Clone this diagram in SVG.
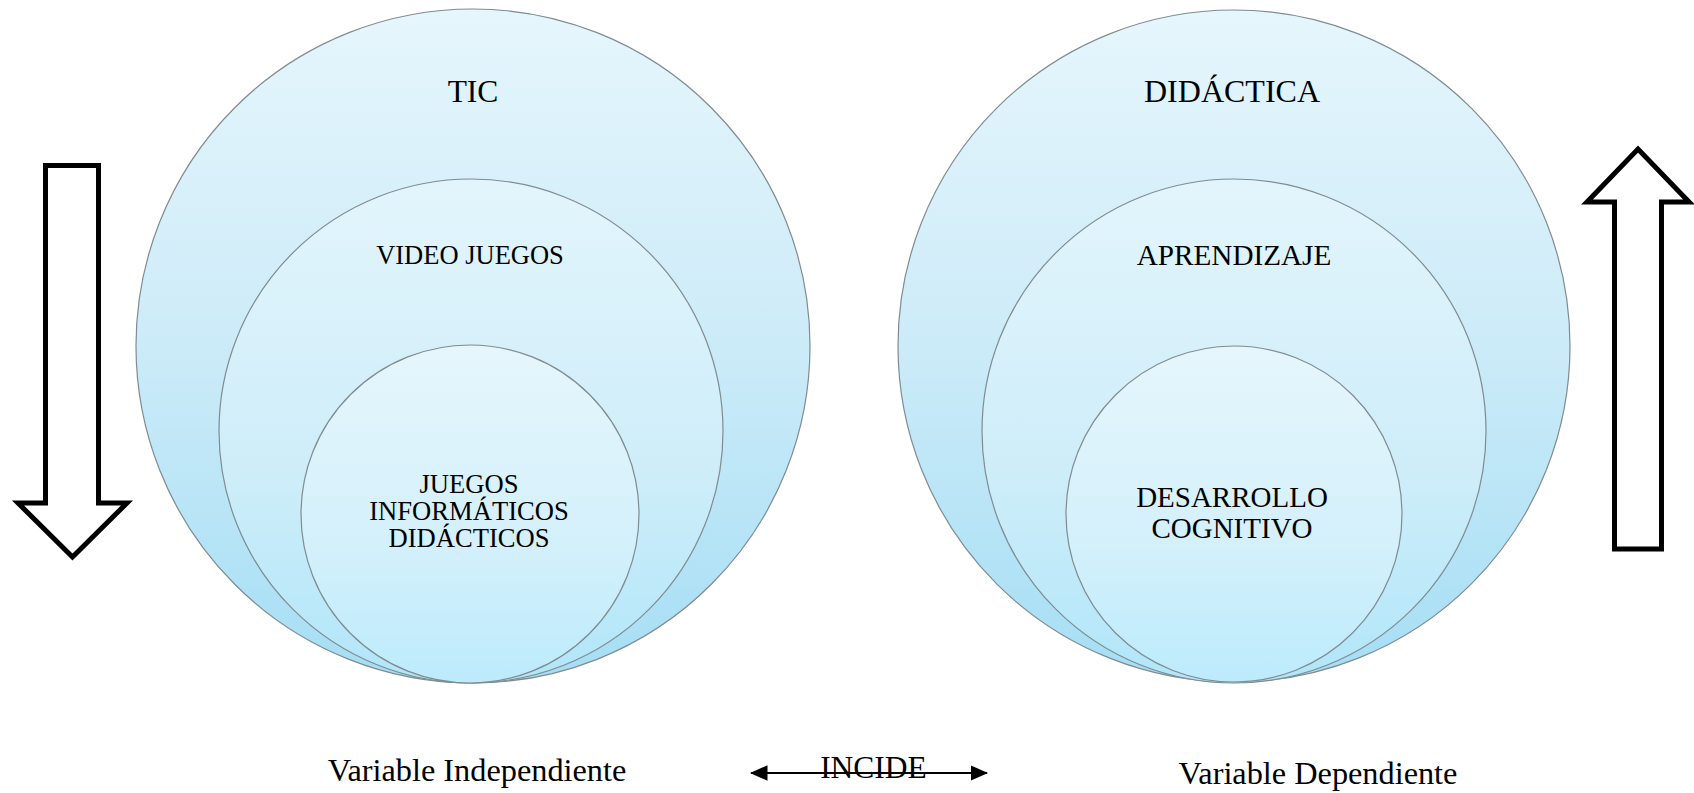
<svg xmlns="http://www.w3.org/2000/svg" width="1694" height="793" viewBox="0 0 1694 793">
<style>
  .lbl { font-family: "Liberation Serif", "Times New Roman", serif; fill: #000; text-anchor: middle; }
  .circ { stroke: #7f8c91; stroke-width: 1.2; }
  .big { fill: url(#gBig); }
  .mid { fill: url(#gMid); }
  .inn { fill: url(#gInn); }
  .block { fill: #fff; stroke: #000; stroke-width: 5; stroke-linejoin: miter; }
  .conn { stroke: #000; stroke-width: 2.2; fill: none; }
</style>
<defs>
  <linearGradient id="gBig" x1="0" y1="0" x2="0" y2="1">
    <stop offset="0" stop-color="#e6f6fc"/>
    <stop offset="0.5" stop-color="#ccebf8"/>
    <stop offset="1" stop-color="#a5def5"/>
  </linearGradient>
  <linearGradient id="gMid" x1="0" y1="0" x2="0" y2="1">
    <stop offset="0" stop-color="#e3f5fc"/>
    <stop offset="0.6" stop-color="#cdedf9"/>
    <stop offset="1" stop-color="#b0e6f9"/>
  </linearGradient>
  <linearGradient id="gInn" x1="0" y1="0" x2="0" y2="1">
    <stop offset="0" stop-color="#e6f6fc"/>
    <stop offset="0.6" stop-color="#d3f0fb"/>
    <stop offset="1" stop-color="#bcebfc"/>
  </linearGradient>
  <marker id="ah" markerWidth="8" markerHeight="7" refX="7.5" refY="3.5" orient="auto-start-reverse" markerUnits="strokeWidth">
    <path d="M0,0 L8,3.5 L0,7 Z" fill="#000"/>
  </marker>
</defs>

<g id="tic">
  <circle class="circ big" cx="473" cy="346" r="337"/>
  <text class="lbl" x="473" y="102" font-size="31.5">TIC</text>
</g>
<g id="video-juegos">
  <circle class="circ mid" cx="471" cy="431" r="252"/>
  <text class="lbl" x="470" y="264" font-size="26.5">VIDEO JUEGOS</text>
</g>
<g id="juegos-informaticos">
  <circle class="circ inn" cx="470" cy="514" r="169"/>
  <text class="lbl" x="469" y="493" font-size="26.6">JUEGOS</text>
  <text class="lbl" x="469" y="520" font-size="26.6">INFORMÁTICOS</text>
  <text class="lbl" x="469" y="547" font-size="26.6">DIDÁCTICOS</text>
</g>

<g id="didactica">
  <circle class="circ big" cx="1234" cy="346" r="336"/>
  <text class="lbl" x="1232" y="102" font-size="32">DIDÁCTICA</text>
</g>
<g id="aprendizaje">
  <circle class="circ mid" cx="1234" cy="431" r="252"/>
  <text class="lbl" x="1234" y="265" font-size="29.2">APRENDIZAJE</text>
</g>
<g id="desarrollo-cognitivo">
  <circle class="circ inn" cx="1234" cy="514" r="168"/>
  <text class="lbl" x="1232" y="507" font-size="29">DESARROLLO</text>
  <text class="lbl" x="1232" y="538" font-size="29">COGNITIVO</text>
</g>

<g id="arrow-down">
  <path class="block" d="M45.5,165.5 H98.5 V503 H127 L72.5,557 L18,503 H45.5 Z"/>
</g>
<g id="arrow-up">
  <path class="block" d="M1614.5,549 V202 H1587 L1638,149 L1689,202 H1661.5 V549 Z"/>
</g>

<g id="label-independiente">
  <text class="lbl" x="477" y="781" font-size="32.3">Variable Independiente</text>
</g>
<g id="label-dependiente">
  <text class="lbl" x="1318" y="784" font-size="32.3">Variable Dependiente</text>
</g>
<g id="label-incide">
  <text class="lbl" x="873.5" y="778" font-size="31.5">INCIDE</text>
</g>

<g id="connectors">
  <line class="conn" x1="751" y1="773" x2="987" y2="773" marker-start="url(#ah)" marker-end="url(#ah)"/>
</g>
</svg>
